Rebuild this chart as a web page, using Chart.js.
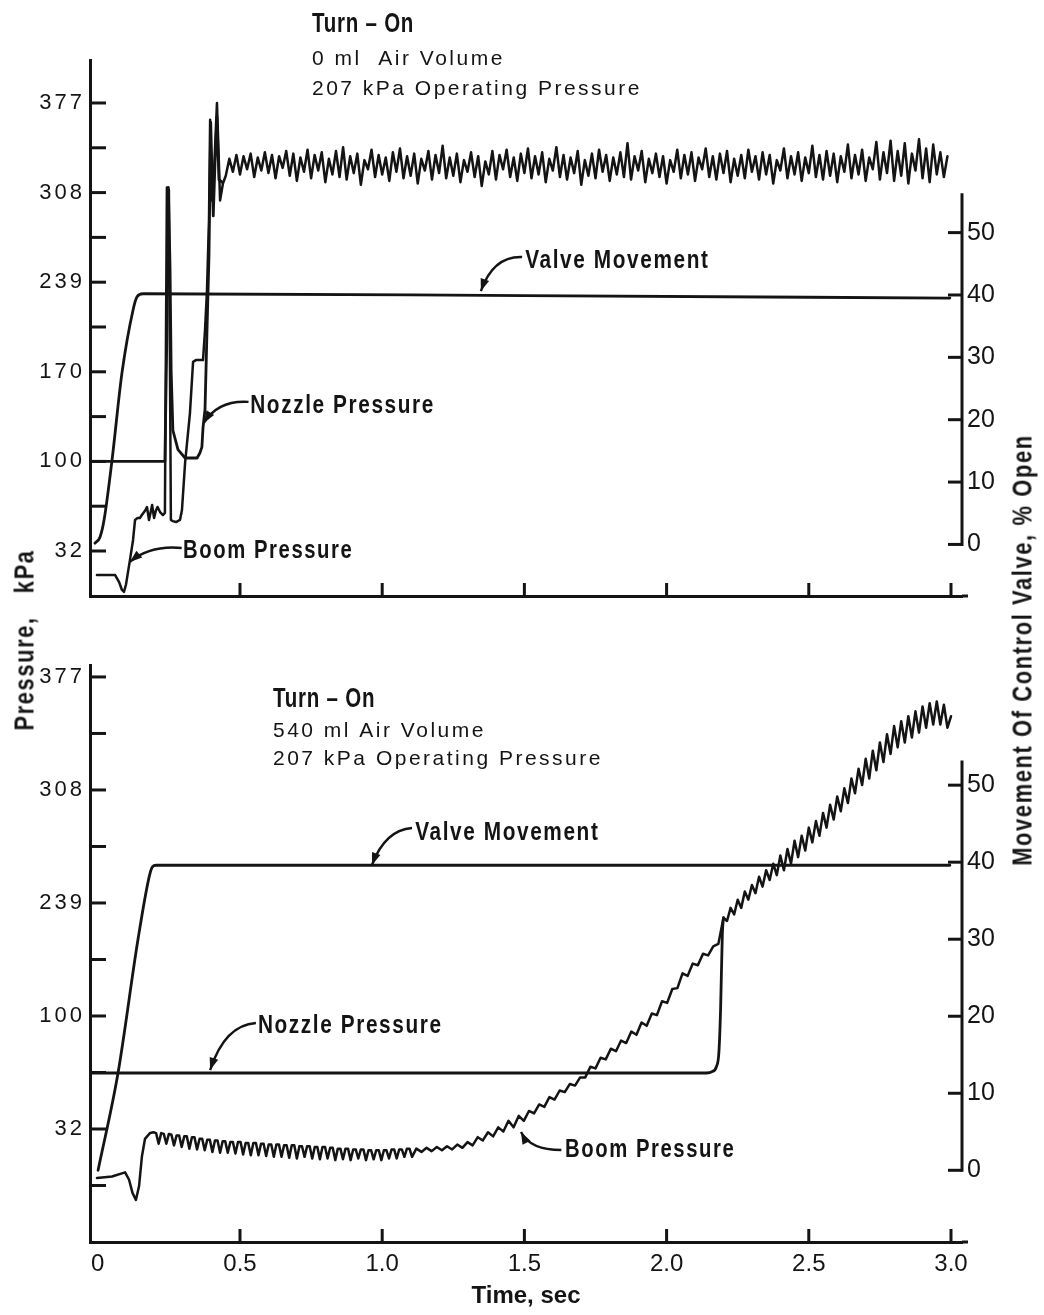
<!DOCTYPE html>
<html lang="en">
<head>
<meta charset="UTF-8">
<title>Turn-On Pressure Response</title>
<script src="https://cdn.jsdelivr.net/npm/chart.js"></script>
<style>
    body {
        margin: 0;
        background: #fff;
        width: 1044px;
        height: 1315px;
        position: relative;
        overflow: hidden;
    }
    canvas { position: absolute; left: 0; }
    #topChart { top: 0; }
    #bottomChart { top: 640px; }
    .axis-title {
        position: absolute;
        font-family: 'Liberation Sans', Arimo, sans-serif;
        font-weight: bold;
        font-size: 27px;
        letter-spacing: 2px;
        color: #151515;
        white-space: pre;
        transform: translate(-50%, -50%) rotate(-90deg) scaleX(0.81);
    }
    #leftTitle { left: 25px; top: 640px; }
    #rightTitle { left: 1023px; top: 650px; }
</style>
</head>
<body>
<canvas id="topChart" width="1044" height="640"></canvas>
<canvas id="bottomChart" width="1044" height="675"></canvas>
<div id="leftTitle" class="axis-title">Pressure,   kPa</div>
<div id="rightTitle" class="axis-title">Movement Of Control Valve, % Open</div>

<script>
    // ---- axes ----
    const timeTicks = [0, 0.5, 1, 1.5, 2, 2.5, 3];
    const timeLabels = ['0', '0.5', '1.0', '1.5', '2.0', '2.5', '3.0'];
    const topPressureTicks = [377, 342.5, 308, 273.5, 239, 204.5, 170, 135.5, 101, 66.5, 32];
    const topPressureLabels = ['377', '', '308', '', '239', '', '170', '', '100', '', '32'];
    // the lower panel of the original is labelled this way (no 170)
    const bottomPressureTicks = [377, 342.5, 308, 273.5, 239, 204.5, 170, 135.5, 101, 66.5];
    const bottomPressureLabels = ['377', '', '308', '', '239', '', '100', '', '32', ''];
    const valveTicks = [0, 10, 20, 30, 40, 50];
    const valveLabels = ['0', '10', '20', '30', '40', '50'];

    // ---- upper panel: 0 ml air volume ----
    const topValveT = [-0.010, 0.008, 0.022, 0.050, 0.085, 0.124, 0.138, 0.159, 1.5, 2.996];
    const topValveV = [0.2, 1.2, 3.9, 13.5, 27.5, 37.6, 39.7, 40.2, 39.9, 39.5];

    const topNozzleT = [-0.027, 0.236, 0.243, 0.248, 0.254, 0.258, 0.264, 0.282, 0.307, 0.349, 0.359,
        0.366, 0.370, 0.377, 0.384, 0.391, 0.397, 0.402, 0.406, 0.412, 0.419, 0.426, 0.437];
    const topNozzleP = [101, 101, 200, 312, 250, 170, 125, 110, 103.6, 103.6, 107.5,
        112, 127, 141, 202, 260, 362, 320, 290, 330, 366, 318, 316];

    const topBoomT = [-0.003, 0.043, 0.061, 0.075, 0.085, 0.092, 0.099, 0.113, 0.124, 0.131, 0.140, 0.148,
        0.155, 0.166, 0.173, 0.180, 0.186, 0.191, 0.198, 0.204, 0.210, 0.219, 0.229, 0.236, 0.243, 0.250,
        0.257, 0.264, 0.275, 0.289, 0.296, 0.307, 0.324, 0.335, 0.345, 0.370, 0.377, 0.384, 0.391, 0.395,
        0.402, 0.408, 0.412, 0.419, 0.430, 0.440];
    const topBoomP = [13.5, 13.5, 13.5, 8, 2, 0.5, 6, 25, 40.5, 55.9, 57.5, 57.4,
        59.7, 63, 65.9, 55.9, 62, 67.4, 57.4, 63, 65.9, 62, 59.7, 61.3, 312, 310,
        55.9, 55, 54.3, 55.9, 63.6, 100, 138, 177.6, 179, 179, 202, 233, 287, 364,
        302, 320, 341, 377, 302, 315];

    // steady ripple after turn-on, sampled every 0.0125 s from 0.45 s
    const topRippleT0 = 0.45;
    const topRippleDt = 0.0125;
    const topRippleP = [
        321, 334, 324, 337, 322, 336, 326, 338, 320, 335, 325, 339, 323, 337, 319, 336, 327,
        340, 321, 338, 317, 335, 324, 341, 319, 337, 325, 339, 316, 334, 322, 340, 320, 343,
        318, 336, 323, 338, 314, 333, 326, 341, 320, 337, 322, 335, 317, 339, 324, 342, 319,
        336, 321, 338, 315, 334, 325, 340, 318, 337, 323, 344, 319, 335, 321, 338, 316, 333,
        324, 339, 320, 336, 313, 332, 322, 340, 318, 337, 326, 341, 320, 335, 317, 338, 323,
        342, 319, 336, 322, 339, 316, 334, 325, 343, 320, 337, 318, 335, 323, 340, 314, 333,
        321, 338, 319, 341, 324, 337, 317, 335, 322, 339, 320, 346, 318, 336, 325, 340, 316,
        334, 323, 338, 320, 336, 315, 333, 324, 341, 319, 337, 322, 339, 317, 335, 326, 342,
        320, 336, 318, 338, 323, 340, 316, 334, 321, 337, 319, 341, 324, 336, 318, 339, 322,
        337, 315, 333, 325, 342, 319, 336, 322, 339, 317, 335, 323, 344, 320, 337, 318, 340,
        321, 338, 316, 336, 324, 345, 319, 337, 322, 341, 317, 335, 326, 347, 318, 339, 323,
        348, 317, 340, 321, 346, 315, 338, 325, 349, 319, 342, 316, 345, 322, 339, 320, 336
    ];

    // ---- lower panel: 540 ml air volume ----
    const botValveT = [0.001, 0.071, 0.141, 0.180, 0.192, 0.205, 2.996];
    const botValveV = [0, 12.6, 29.9, 38.0, 39.4, 39.6, 39.6];

    const botNozzleT = [-0.027, 2.140, 2.160, 2.175, 2.184, 2.190, 2.196, 2.200];
    const botNozzleP = [135.2, 135.2, 136, 139, 148, 175, 220, 230];

    const botBoomT = [-0.003, 0.050, 0.096, 0.110, 0.122, 0.134, 0.145, 0.155, 0.166, 0.184];
    const botBoomP = [71.1, 72, 74.5, 70, 62, 57.7, 66, 84, 95, 98.6];

    // comb-like oscillation, every 0.009 s from 0.196 s
    const botCombT0 = 0.196;
    const botCombDt = 0.009;
    const botCombP = [
        99, 98.5, 92, 98.5, 98, 92, 98, 97.5, 91, 97, 97, 90, 96.5, 96.5, 89, 96, 96, 88.5,
        95, 95, 88, 94.5, 94.5, 87, 94, 94, 86.5, 93.5, 93.5, 86.5, 93, 93, 86, 93, 93, 85.5,
        92.5, 92.5, 85, 92.5, 92.5, 85, 92, 92, 84.5, 91.5, 91.5, 84, 91.5, 91.5, 84, 91, 91, 83.5,
        91, 91, 83, 90.5, 90.5, 84, 90.5, 90.5, 83, 90, 90, 82.5, 90, 90, 83, 89.5, 89.5, 82,
        89, 89, 82.5, 89, 89, 82, 88.5, 88.5, 83, 88.5, 88.5, 82, 88, 88, 82.5, 88, 88, 82,
        88, 88, 83, 88.5, 88.5, 83, 88.5, 88.5, 84, 89, 89, 84
    ];

    // slow rise of boom pressure, every 0.018 s from 1.12 s
    const botRiseT0 = 1.12;
    const botRiseDt = 0.018;
    const botRiseP = [
        89, 87, 89.5, 87.5, 90, 88, 90.5, 88.5, 91.5, 89.5,
        93, 91, 96, 94, 99, 96.5, 102, 99.5, 106, 102,
        109, 106, 112, 110.5, 116, 114.5, 120.5, 119, 124.5, 123.5,
        128.5, 127.5, 132.5, 132.5, 139, 138, 144.5, 143.5, 150, 148.5,
        155, 153.5, 160.5, 158.5, 166, 164, 171.5, 170.5, 179, 178,
        186.5, 187, 196, 194.5, 202, 201, 208, 207, 212.5, 214
    ];

    // after the nozzle opens, every 0.0125 s from 2.2 s
    const botRippleT0 = 2.2;
    const botRippleDt = 0.0125;
    const botRippleP = [
        230, 228, 236, 232, 241, 236, 246, 241, 250, 245,
        255, 249, 259, 253, 263, 256, 268, 259, 272, 263,
        277, 267, 280, 271, 285, 276, 289, 280, 294, 285,
        299, 290, 304, 295, 309, 300, 315, 306, 321, 311,
        327, 315, 332, 320, 337, 325, 342, 330, 347, 334,
        350, 337, 353, 340, 356, 343, 359, 346, 361, 348,
        362, 348, 360, 346, 353
    ];

    const INK = '#141414';
    const NUM_FONT = "'Liberation Sans', Arimo, sans-serif";
    const X_MIN = -0.0274, X_MAX = 3.0387;

    function pairs(ts, vs) {
        return ts.map((t, i) => ({ x: t, y: vs[i] }));
    }
    function sampled(t0, dt, vs) {
        return vs.map((v, i) => ({ x: +(t0 + i * dt).toFixed(4), y: v }));
    }

    function trace(data, axis, extra) {
        return Object.assign({
            data: data,
            yAxisID: axis,
            borderColor: INK,
            borderWidth: 2.8,
            pointRadius: 0,
            fill: false,
            tension: 0,
            borderJoinStyle: 'round',
            borderCapStyle: 'round'
        }, extra || {});
    }

    // loosen the letters of one scale's tick labels
    function spaceLabels(s, spacing) {
        if (s.$spaced) return;
        s.$spaced = true;
        const draw = s.drawLabels;
        s.drawLabels = function (area) {
            this.ctx.letterSpacing = spacing;
            draw.call(this, area);
            this.ctx.letterSpacing = '0px';
        };
    }

    // tick marks drawn inward, and the short right spine
    const inwardTicks = {
        id: 'inwardTicks',
        afterDraw(chart) {
            const { ctx, chartArea: a, scales } = chart;
            const seg = (x1, y1, x2, y2) => { ctx.beginPath(); ctx.moveTo(x1, y1); ctx.lineTo(x2, y2); ctx.stroke(); };
            ctx.save();
            ctx.strokeStyle = INK;
            ctx.lineWidth = 3;
            scales.y.ticks.forEach(t => {
                const py = scales.y.getPixelForValue(t.value);
                seg(a.left, py, a.left + 16, py);
            });
            scales.y2.ticks.forEach(t => {
                const py = scales.y2.getPixelForValue(t.value);
                seg(a.right - 14, py, a.right, py);
            });
            const spineTop = chart.options.plugins.inwardTicks.spineTop;
            seg(a.right, scales.y2.getPixelForValue(0) + 1.5, a.right, scales.y2.getPixelForValue(spineTop));
            scales.x.ticks.forEach(t => {
                if (t.value === 0) return;
                const px = scales.x.getPixelForValue(t.value);
                seg(px, a.bottom, px, a.bottom - 13);
            });
            seg(a.right, a.bottom, a.right + 6, a.bottom);
            ctx.restore();
        }
    };

    // text notes and curved leader arrows, placed in data units
    function notesPlugin(items) {
        return {
            id: 'notes',
            afterDraw(chart) {
                const { ctx, scales: { x, y } } = chart;
                const P = (t, v) => [x.getPixelForValue(t), y.getPixelForValue(v)];
                ctx.save();
                ctx.fillStyle = INK;
                ctx.strokeStyle = INK;
                ctx.textBaseline = 'alphabetic';
                items.forEach(n => {
                    const [tx, ty] = P(n.t, n.v);
                    ctx.save();
                    ctx.font = n.font;
                    ctx.letterSpacing = n.spacing || '0px';
                    ctx.translate(tx, ty);
                    ctx.scale(n.sx || 1, 1);
                    ctx.fillText(n.text, 0, 0);
                    ctx.restore();
                    if (n.arrow) {
                        const [sx, sy] = P(n.arrow[0], n.arrow[1]);
                        const [cx, cy] = P(n.arrow[2], n.arrow[3]);
                        const [ex, ey] = P(n.arrow[4], n.arrow[5]);
                        ctx.lineWidth = 2.4;
                        ctx.beginPath();
                        ctx.moveTo(sx, sy);
                        ctx.quadraticCurveTo(cx, cy, ex, ey);
                        ctx.stroke();
                        const ang = Math.atan2(ey - cy, ex - cx);
                        ctx.beginPath();
                        ctx.moveTo(ex, ey);
                        ctx.lineTo(ex - 13 * Math.cos(ang - 0.35), ey - 13 * Math.sin(ang - 0.35));
                        ctx.lineTo(ex - 13 * Math.cos(ang + 0.35), ey - 13 * Math.sin(ang + 0.35));
                        ctx.closePath();
                        ctx.fill();
                    }
                });
                ctx.restore();
            }
        };
    }

    function buildPanel(canvasId, opts) {
        return new Chart(document.getElementById(canvasId), {
            type: 'line',
            data: { datasets: opts.datasets },
            options: {
                responsive: false,
                animation: false,
                layout: { padding: { top: opts.padTop, left: 0, right: 0, bottom: 0 } },
                plugins: {
                    legend: { display: false },
                    tooltip: { enabled: false },
                    inwardTicks: { spineTop: opts.spineTop }
                },
                scales: {
                    x: {
                        type: 'linear',
                        position: 'bottom',
                        min: X_MIN,
                        max: X_MAX,
                        afterBuildTicks: s => { s.ticks = timeTicks.map(v => ({ value: v })); },
                        afterFit: s => { s.height = opts.xHeight; },
                        ticks: {
                            display: opts.showTime,
                            autoSkip: false,
                            maxRotation: 0,
                            padding: 8,
                            color: INK,
                            font: { family: NUM_FONT, size: 24 },
                            callback: (v, i) => timeLabels[i]
                        },
                        grid: { drawOnChartArea: false, drawTicks: false },
                        border: { display: true, color: INK, width: 3 },
                        title: {
                            display: opts.showTime,
                            text: 'Time, sec',
                            color: INK,
                            font: { family: NUM_FONT, size: 24, weight: 'bold' },
                            padding: { top: 0, bottom: 4 }
                        }
                    },
                    y: {
                        type: 'linear',
                        position: 'left',
                        min: opts.pMin,
                        max: opts.pMax,
                        afterBuildTicks: s => { s.ticks = opts.pTicks.map(v => ({ value: v })); },
                        afterFit: s => { s.width = 90; spaceLabels(s, '3px'); },
                        ticks: {
                            autoSkip: false,
                            padding: 5,
                            color: INK,
                            font: { family: NUM_FONT, size: 22 },
                            callback: (v, i) => opts.pLabels[i]
                        },
                        grid: { drawOnChartArea: false, drawTicks: false },
                        border: { display: true, color: INK, width: 3 }
                    },
                    y2: {
                        type: 'linear',
                        position: 'right',
                        min: opts.vMin,
                        max: opts.vMax,
                        afterBuildTicks: s => { s.ticks = valveTicks.map(v => ({ value: v })); },
                        afterFit: s => { s.width = 82; },
                        ticks: {
                            autoSkip: false,
                            padding: 5,
                            color: INK,
                            font: { family: NUM_FONT, size: 25 },
                            callback: (v, i) => valveLabels[i]
                        },
                        grid: { drawOnChartArea: false, drawTicks: false },
                        border: { display: false }
                    }
                }
            },
            plugins: [inwardTicks, notesPlugin(opts.notes)]
        });
    }

    const noteFont = `bold 26px ${NUM_FONT}`;
    const headFont = `bold 27px ${NUM_FONT}`;
    const infoFont = `21px ${NUM_FONT}`;

    buildPanel('topChart', {
        padTop: 60,
        xHeight: 44,
        showTime: false,
        pMin: -2.65, pMax: 410.1,
        pTicks: topPressureTicks, pLabels: topPressureLabels,
        vMin: -8.27, vMax: 77.68,
        spineTop: 56.3,
        datasets: [
            trace(pairs(topValveT, topValveV), 'y2', { cubicInterpolationMode: 'monotone' }),
            trace(pairs(topNozzleT, topNozzleP), 'y'),
            trace(pairs(topBoomT, topBoomP).concat(sampled(topRippleT0, topRippleDt, topRippleP)), 'y', { borderWidth: 2.5 })
        ],
        notes: [
            { text: 'Turn – On', t: 0.753, v: 431.7, font: headFont, spacing: '1px', sx: 0.76 },
            { text: '0 ml  Air Volume', t: 0.753, v: 406.3, font: infoFont, spacing: '2.5px' },
            { text: '207 kPa Operating Pressure', t: 0.753, v: 383.2, font: infoFont, spacing: '2.5px' },
            { text: 'Valve Movement', t: 1.503, v: 250, font: noteFont, spacing: '2px', sx: 0.8,
              arrow: [1.492, 258.4, 1.390, 259.2, 1.347, 232.2] },
            { text: 'Nozzle Pressure', t: 0.536, v: 138.3, font: noteFont, spacing: '2px', sx: 0.8,
              arrow: [0.530, 146.8, 0.423, 148.3, 0.373, 130.6] },
            { text: 'Boom Pressure', t: 0.300, v: 26.6, font: noteFont, spacing: '2px', sx: 0.78,
              arrow: [0.295, 34.3, 0.184, 36.6, 0.113, 23.6] }
        ]
    });

    buildPanel('bottomChart', {
        padTop: 25,
        xHeight: 73,
        showTime: true,
        pMin: 32.0, pMax: 384.3,
        pTicks: bottomPressureTicks, pLabels: bottomPressureLabels,
        vMin: -9.31, vMax: 65.6,
        spineTop: 53.2,
        datasets: [
            trace(pairs(botValveT, botValveV), 'y2', { cubicInterpolationMode: 'monotone' }),
            trace(pairs(botNozzleT, botNozzleP), 'y', { cubicInterpolationMode: 'monotone' }),
            trace(pairs(botBoomT, botBoomP)
                .concat(sampled(botCombT0, botCombDt, botCombP))
                .concat(sampled(botRiseT0, botRiseDt, botRiseP))
                .concat(sampled(botRippleT0, botRippleDt, botRippleP)), 'y', { borderWidth: 2.5 })
        ],
        notes: [
            { text: 'Turn – On', t: 0.616, v: 358.7, font: headFont, spacing: '1px', sx: 0.76 },
            { text: '540 ml Air Volume', t: 0.616, v: 340.4, font: infoFont, spacing: '2.5px' },
            { text: '207 kPa Operating Pressure', t: 0.616, v: 323.3, font: infoFont, spacing: '2.5px' },
            { text: 'Valve Movement', t: 1.116, v: 277.5, font: noteFont, spacing: '2px', sx: 0.8,
              arrow: [1.105, 284.8, 1.010, 283.6, 0.964, 262.2] },
            { text: 'Nozzle Pressure', t: 0.563, v: 159.6, font: noteFont, spacing: '2px', sx: 0.8,
              arrow: [0.556, 165.7, 0.447, 164.5, 0.395, 137] },
            { text: 'Boom Pressure', t: 1.643, v: 83.9, font: noteFont, spacing: '2px', sx: 0.78,
              arrow: [1.630, 88.2, 1.520, 88.2, 1.488, 99.2] }
        ]
    });
</script>
</body>
</html>
